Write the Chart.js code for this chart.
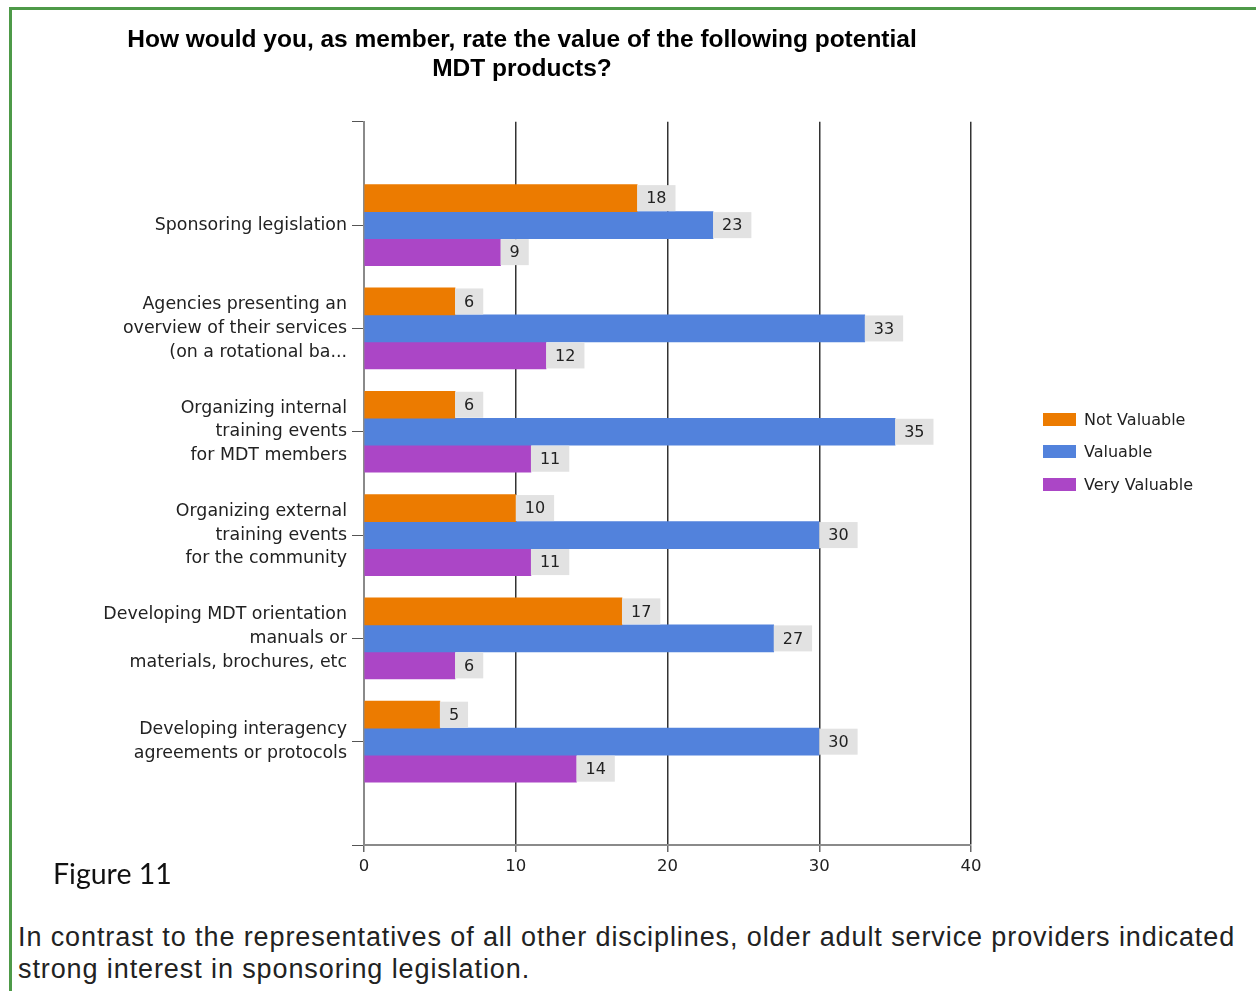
<!DOCTYPE html>
<html>
<head>
<meta charset="utf-8">
<title>MDT products</title>
<script src="https://cdn.jsdelivr.net/npm/chart.js@4/dist/chart.umd.min.js"></script>
<style>
  html, body { margin: 0; padding: 0; background: #fff; }
  body { width: 1256px; height: 991px; position: relative; overflow: hidden; }
  .frame { position: absolute; left: 9px; top: 7px; right: -10px; bottom: -10px;
           border-top: 3px solid #4e9a48; border-left: 3px solid #4e9a48; }
  .chart-box { position: absolute; left: 0; top: 0; width: 1044px; height: 900px; }
  .legend { position: absolute; left: 1043px; top: 403px; font: 16px "DejaVu Sans", sans-serif; color: #222; }
  .legend .item { height: 32.5px; display: flex; align-items: center; }
  .legend .swatch { width: 33px; height: 13px; margin-right: 8px; }
  .figure { position: absolute; left: 53px; top: 856px; font: 28.5px Lato, "Noto Sans", sans-serif; color: #111; }
  .caption { position: absolute; left: 18px; top: 921px; width: 1236px; font: 27px "Liberation Sans", Arial, sans-serif;
             letter-spacing: 0.9px; line-height: 32px; color: #222; }
</style>
</head>
<body>
<div class="frame"></div>
<div class="chart-box"><canvas id="chart"></canvas></div>
<div class="legend" id="legend"></div>
<div class="figure">Figure 11</div>
<div class="caption">In contrast to the representatives of all other disciplines, older adult service providers indicated strong interest in sponsoring legislation.</div>

<script>
// survey answers per product, one array per rating
const TITLE = ['How would you, as member, rate the value of the following potential', 'MDT products?'];

const PRODUCTS = [
  ['Sponsoring legislation'],
  ['Agencies presenting an', 'overview of their services', '(on a rotational ba...'],
  ['Organizing internal', 'training events', 'for MDT members'],
  ['Organizing external', 'training events', 'for the community'],
  ['Developing MDT orientation', 'manuals or', 'materials, brochures, etc'],
  ['Developing interagency', 'agreements or protocols'],
];

const SERIES = ['Not Valuable', 'Valuable', 'Very Valuable'];
const COLORS = ['#ec7b00', '#5282dc', '#ab46c6'];

const NOT_VALUABLE  = [18, 6, 6, 10, 17, 5];
const VALUABLE      = [23, 33, 35, 30, 27, 30];
const VERY_VALUABLE = [9, 12, 11, 11, 6, 14];

const X_TICKS = [0, 10, 20, 30, 40];

const FONT = '"DejaVu Sans", sans-serif';

// blank slot above and below the products, like the original axis
const labels = [''].concat(PRODUCTS, ['']);
const pad = arr => [null].concat(arr, [null]);

const datasets = [NOT_VALUABLE, VALUABLE, VERY_VALUABLE].map((vals, i) => ({
  label: SERIES[i],
  data: pad(vals),
  backgroundColor: COLORS[i],
  borderWidth: 0,
  barThickness: 27,
}));

// grey value tag drawn at the end of every bar
const valueTags = {
  id: 'valueTags',
  afterDatasetsDraw(chart) {
    const ctx = chart.ctx;
    ctx.save();
    ctx.font = '16px ' + FONT;
    ctx.textBaseline = 'middle';
    ctx.textAlign = 'center';
    chart.data.datasets.forEach((ds, di) => {
      chart.getDatasetMeta(di).data.forEach((bar, i) => {
        const v = ds.data[i];
        if (v == null) return;
        const txt = String(v);
        const w = ctx.measureText(txt).width + 18;
        const h = bar.height - 1;
        ctx.fillStyle = '#e2e2e2';
        ctx.fillRect(bar.x, bar.y - h / 2, w, h);
        ctx.fillStyle = '#222';
        ctx.fillText(txt, bar.x + w / 2, bar.y + 1);
      });
    });
    ctx.restore();
  }
};

new Chart(document.getElementById('chart'), {
  type: 'bar',
  data: { labels, datasets },
  plugins: [valueTags],
  options: {
    indexAxis: 'y',
    responsive: true,
    maintainAspectRatio: false,
    animation: false,
    // left padding keeps the title centred over the plot + legend block
    layout: { padding: { left: 73, top: 0, right: 73, bottom: 20 } },
    plugins: {
      legend: { display: false },
      tooltip: { enabled: false },
      title: {
        display: true,
        text: TITLE,
        color: '#000',
        font: { family: '"Liberation Sans", Arial, sans-serif', size: 24.5, weight: 'bold', lineHeight: 1.18 },
        padding: { top: 26, bottom: 38 },
      },
    },
    scales: {
      x: {
        min: X_TICKS[0],
        max: X_TICKS[X_TICKS.length - 1],
        afterBuildTicks(scale) { scale.ticks = X_TICKS.map(v => ({ value: v })); },
        afterFit(scale) { scale.height = 35; },
        grid: { color: '#333', lineWidth: 1.5, tickLength: 7, tickColor: '#666' },
        border: { color: '#8a8a8a', width: 2 },
        ticks: { color: '#222', padding: 5, font: { family: FONT, size: 16.5 } },
      },
      y: {
        offset: false,
        afterFit(scale) { scale.width = 291; },
        grid: { offset: false, drawOnChartArea: false, tickLength: 12, tickColor: '#555' },
        border: { color: '#8a8a8a', width: 2 },
        ticks: { color: '#222', padding: 5, autoSkip: false, font: { family: FONT, size: 17.4, lineHeight: 1.36 } },
      },
    },
  },
});

// legend next to the plot
const legend = document.getElementById('legend');
SERIES.forEach((name, i) => {
  const item = document.createElement('div');
  item.className = 'item';
  item.innerHTML = '<span class="swatch" style="background:' + COLORS[i] + '"></span>' + name;
  legend.appendChild(item);
});
</script>
</body>
</html>
